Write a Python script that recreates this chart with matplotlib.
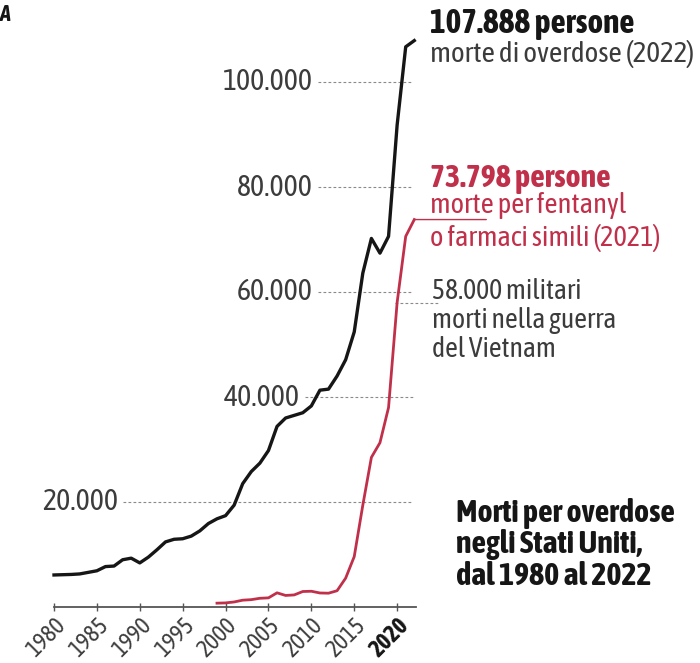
"""Morti per overdose negli Stati Uniti, 1980-2022 (ricostruzione del grafico)."""

import matplotlib
matplotlib.use('Agg')
import matplotlib.pyplot as plt

# font condensato, con DejaVu Sans Condensed come riserva
plt.rcParams['font.family'] = ['Asap Condensed', 'DejaVu Sans']
plt.rcParams['font.stretch'] = 'condensed'

# dati
years_total = list(range(1980, 2023))
deaths_total = [6100, 6150, 6200, 6300, 6600, 6900, 7700, 7800, 9000, 9300,
                8400, 9500, 10900, 12400, 12900, 13000, 13500, 14500, 15900, 16800,
                17400, 19400, 23500, 25800, 27400, 29800, 34400, 36000, 36500, 37000,
                38300, 41300, 41500, 44000, 47100, 52400, 63600, 70200, 67400, 70600,
                91800, 106700, 107888]

years_fent = list(range(1999, 2023))
deaths_fent = [730, 780, 960, 1300, 1400, 1660, 1740, 2700, 2200, 2300,
               2950, 3000, 2670, 2630, 3100, 5500, 9600, 19400, 28500, 31300,
               38000, 58000, 70600, 73798]

y_levels = [20000, 40000, 60000, 80000, 100000]
y_labels = ['20.000', '40.000', '60.000', '80.000', '100.000']
x_ticks = [1980, 1985, 1990, 1995, 2000, 2005, 2010, 2015, 2020]
vietnam = 58000

# colori
BLACK = '#161616'
RED = '#c0304a'
GREY_TXT = '#3c3c3c'
GRID = '#8a8a8a'

# posizione (anno) del bordo destro delle etichette dell'asse y
label_right = [1987.5, 2008.7, 2010.2, 2010.2, 2010.2]

fig = plt.figure(figsize=(7.0, 6.63), dpi=100)
ax = fig.add_axes([54 / 700, 56 / 663, 362 / 700, 588 / 663])
ax.set_xlim(1980, 2022.2)
ax.set_ylim(0, 112000)

# griglia tratteggiata con etichette dentro il grafico
for lvl, lab, xr in zip(y_levels, y_labels, label_right):
    ax.plot([xr + 0.6, 2021.9], [lvl, lvl], color=GRID, lw=0.8,
            linestyle=(0, (2.5, 2)), zorder=1)
    ax.text(xr, lvl, lab, ha='right', va='center', fontsize=21.5, color=GREY_TXT)

# linea dei 58.000 militari
ax.plot([2019.7, 2024.9], [vietnam, vietnam], color=GRID, lw=0.8,
        linestyle=(0, (2.5, 2)), zorder=1, clip_on=False)

ax.plot(years_total, deaths_total, color=BLACK, lw=2.4, zorder=3,
        solid_joinstyle='round', clip_on=False)
ax.plot(years_fent, deaths_fent, color=RED, lw=2.0, zorder=3,
        solid_joinstyle='round', clip_on=False)

# trattino rosso che collega la curva all'etichetta
ax.annotate('', xy=(years_fent[-1], deaths_fent[-1]), xytext=(72, 0),
            textcoords='offset pixels',
            arrowprops=dict(arrowstyle='-', color=RED, lw=1.0,
                            shrinkA=0, shrinkB=0))

# assi
for s in ['top', 'right', 'left']:
    ax.spines[s].set_visible(False)
ax.spines['bottom'].set_color('#555555')
ax.spines['bottom'].set_linewidth(1.3)
ax.set_yticks([])
ax.set_xticks(x_ticks)
ax.set_xticklabels([str(x) for x in x_ticks], rotation=45, ha='right',
                   rotation_mode='anchor', fontsize=17, color=GREY_TXT)
ax.xaxis.get_ticklabels()[-1].set_fontweight('bold')
ax.xaxis.get_ticklabels()[-1].set_color(BLACK)
ax.tick_params(axis='x', direction='inout', length=6, width=1, color='#555555', pad=2)


def ftext(x, y, s, **kw):
    fig.text(x / 700, 1 - y / 663, s, va='baseline', **kw)


ftext(0, 21, 'A', fontsize=16, fontweight='bold', style='italic', color=BLACK)

ftext(430, 33, '107.888 persone', fontsize=24, fontweight='bold', color=BLACK)
ftext(430, 62, 'morte di overdose (2022)', fontsize=21, color=GREY_TXT)

ftext(430, 187, '73.798 persone', fontsize=23, fontweight='bold', color=RED)
ftext(430, 213, 'morte per fentanyl', fontsize=20.5, color=RED)
ftext(430, 246, 'o farmaci simili (2021)', fontsize=20.5, color=RED)

ftext(432, 299, '58.000 militari', fontsize=20, color=GREY_TXT)
ftext(432, 328, 'morti nella guerra', fontsize=20, color=GREY_TXT)
ftext(432, 357, 'del Vietnam', fontsize=20, color=GREY_TXT)

ftext(456, 522, 'Morti per overdose', fontsize=23, fontweight='bold', color=BLACK)
ftext(456, 553, 'negli Stati Uniti,', fontsize=23, fontweight='bold', color=BLACK)
ftext(456, 585, 'dal 1980 al 2022', fontsize=23, fontweight='bold', color=BLACK)

fig.savefig('out.png', dpi=100, facecolor='white')
